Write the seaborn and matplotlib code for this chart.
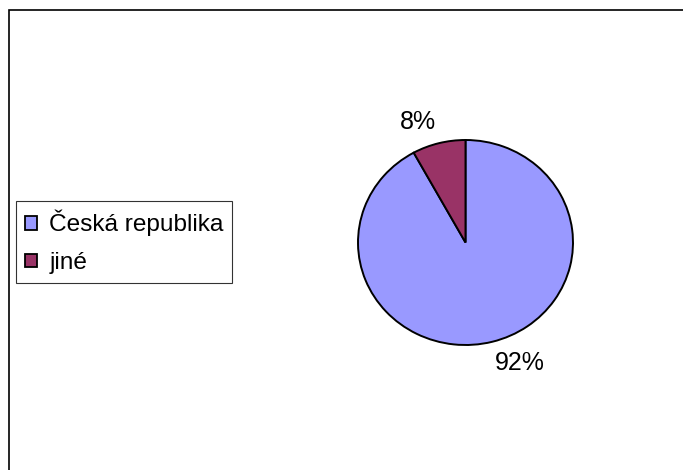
import matplotlib
matplotlib.use('Agg')
import matplotlib.pyplot as plt
import seaborn as sns
from matplotlib.patches import Rectangle

names = ['Česká republika', 'jiné']
shares = [92, 8]
pct_labels = ['92%', '8%']
colors = ['#9999FF', '#993366']


def draw():
  sns.set_style('white')
  plt.rcParams['font.family'] = ['Liberation Sans', 'DejaVu Sans']
  plt.rcParams['text.color'] = 'black'

  fig = plt.figure(figsize=(6.83, 4.70), dpi=100)
  W, H = 683, 470

  # outer frame (Excel chart area)
  fig.patches.append(Rectangle((9 / W, -0.1), 1.2, 1.1 - 10 / H,
                               transform=fig.transFigure, fill=False,
                               edgecolor='black', linewidth=1.2))

  ax = fig.add_axes([358 / W, (H - 345) / H, 215 / W, 205 / H])
  wedges, texts = ax.pie(shares, labels=pct_labels, colors=colors,
                         startangle=90, counterclock=False,
                         labeldistance=1.09,
                         wedgeprops=dict(edgecolor='black', linewidth=1.4),
                         textprops=dict(fontsize=18, color='black'))
  for t in texts:
    x, y = t.get_position()
    t.set_va('bottom' if y > 0 else 'top')
  ax.set_aspect('auto')
  ax.set_xlim(-1, 1)
  ax.set_ylim(-1, 1)

  leg = fig.legend(wedges, names, loc='upper left',
                   bbox_to_anchor=(16 / W, 1 - 201 / H),
                   bbox_transform=fig.transFigure, borderaxespad=0,
                   fontsize=17.6, frameon=True, fancybox=False,
                   labelcolor='black',
                   handlelength=0.5, handleheight=0.5,
                   handletextpad=0.5, labelspacing=0.65, borderpad=0.36)
  leg.get_frame().set_edgecolor('black')
  leg.get_frame().set_linewidth(0.8)
  for h in leg.legend_handles:
    h.set_edgecolor('black')
    h.set_linewidth(1.3)

  fig.savefig('out.png', dpi=100)


if __name__ == '__main__':
  draw()
